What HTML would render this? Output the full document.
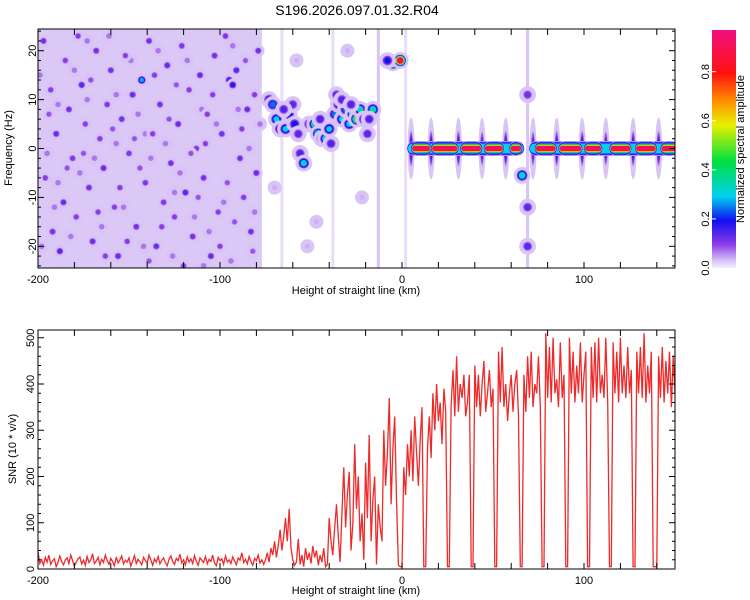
<!DOCTYPE html>
<html><head><meta charset="utf-8">
<style>
html,body{margin:0;padding:0;background:#fff;}
svg{display:block;font-family:"Liberation Sans",sans-serif;}
text{fill:#000;}
</style></head>
<body>
<svg id="chart" width="750" height="600" viewBox="0 0 750 600" xmlns="http://www.w3.org/2000/svg">
<text x="357" y="15" font-size="14" text-anchor="middle">S196.2026.097.01.32.R04</text>
<defs>
<clipPath id="clipTop"><rect x="38" y="29" width="637" height="239"/></clipPath>
<clipPath id="clipBot"><rect x="38" y="330" width="637" height="239"/></clipPath>
<linearGradient id="cbGrad" x1="0" y1="1" x2="0" y2="0">
<stop offset="0" stop-color="#f4eefc"/><stop offset="0.03" stop-color="#d8c4f5"/><stop offset="0.1" stop-color="#8a3be8"/>
<stop offset="0.2" stop-color="#1010f0"/><stop offset="0.3" stop-color="#00d0f0"/><stop offset="0.45" stop-color="#00e040"/>
<stop offset="0.6" stop-color="#e8f000"/><stop offset="0.7" stop-color="#ff9000"/><stop offset="0.82" stop-color="#ff1010"/>
<stop offset="1" stop-color="#f01080"/></linearGradient>
</defs>
<g id="heat" clip-path="url(#clipTop)"></g>
<g id="topAxes"></g>
<text x="12" y="148" font-size="11" text-anchor="middle" transform="rotate(-90 12 148)">Frequency (Hz)</text>
<text x="356" y="294" font-size="11" text-anchor="middle">Height of straight line (km)</text>
<rect x="712" y="30" width="24" height="238" fill="url(#cbGrad)"/>
<g id="cbAxes"></g>
<text x="744" y="149" font-size="11" text-anchor="middle" transform="rotate(-90 744 149)">Normalized spectral amplitude</text>
<g id="snr" clip-path="url(#clipBot)"></g>
<g id="botAxes"></g>
<text x="16" y="449" font-size="11" text-anchor="middle" transform="rotate(-90 16 449)">SNR (10 * v/v)</text>
<text x="356" y="594" font-size="11" text-anchor="middle">Height of straight line (km)</text>
</svg>
<script>
// ---- data ----
const xTicks = [-200,-100,0,100];
const freqTicks = [-20,-10,0,10,20];
const snrTicks = [0,100,200,300,400,500];
const cbTicks = [0.0,0.2,0.4,0.6,0.8];
// noise field [xStart, xEnd, amplitude]
const noiseBands = [[-200,-77,0.04]];
// vertical streaks [x, amplitude]
const streaks = [[-66,0.03],[-38,0.03],[-13,0.05],[2,0.03],[69,0.05]];
// noise spots [x km, freq Hz, amplitude]
const noiseSpots = [
[-197,22,0.12],[-193,12,0.1],[-190,3,0.13],[-196,-6,0.1],[-192,-17,0.12],[-188,-21,0.14],[-185,18,0.1],[-183,8,0.12],[-181,-2,0.11],[-186,-11,0.13],
[-178,23,0.1],[-176,13,0.14],[-174,5,0.1],[-172,-8,0.12],[-179,-14,0.1],[-170,-19,0.13],[-168,20,0.12],[-166,2,0.1],[-164,-4,0.13],[-162,9,0.11],
[-160,16,0.12],[-158,-12,0.1],[-156,-22,0.13],[-154,6,0.12],[-152,19,0.1],[-150,-1,0.11],[-148,11,0.13],[-146,-16,0.12],[-143,14,0.28],[-141,-7,0.11],
[-139,22,0.12],[-137,3,0.1],[-135,-20,0.13],[-133,9,0.12],[-131,-11,0.11],[-129,17,0.13],[-127,-3,0.12],[-125,-14,0.1],[-123,5,0.13],[-121,21,0.11],
[-119,-9,0.14],[-117,12,0.1],[-115,-18,0.12],[-113,0,0.11],[-111,15,0.13],[-109,-6,0.12],[-107,7,0.1],[-105,-22,0.13],[-103,19,0.12],[-101,-13,0.1],
[-99,3,0.12],[-97,23,0.11],[-95,14,0.16],[-93,13,0.18],[-91,16,0.14],[-89,-2,0.12],[-87,-10,0.1],[-85,8,0.13],[-83,-17,0.12],[-81,11,0.1],
[-80,-5,0.13],[-79,20,0.12],[-194,7,0.09],[-187,-25,0.1],[-175,-1,0.09],[-167,-13,0.1],[-159,4,0.09],[-151,-19,0.1],[-144,-4,0.09],[-136,15,0.1],
[-128,6,0.09],[-120,-24,0.1],[-112,-10,0.09],[-104,11,0.1],[-96,-7,0.09],[-88,4,0.1],[-82,-21,0.09],[-171,14,0.09],[-155,-8,0.1],[-139,-23,0.09],
[-124,13,0.09],[-108,1,0.1],[-92,-15,0.09],[-184,-4,0.09],[-163,-22,0.1],[-147,2,0.09],[-132,-16,0.1],[-116,-1,0.09],[-100,-20,0.1],[-86,18,0.09]];
// faint noise spots [x km, freq Hz, amplitude]
const faintSpots = [
[-199,15,0.07],[-195,-1,0.07],[-191,-12,0.07],[-189,9,0.07],[-182,-18,0.07],[-180,16,0.07],[-177,-5,0.07],[-173,10,0.07],[-169,-2,0.07],[-165,-16,0.07],
[-161,23,0.07],[-157,1,0.07],[-153,-12,0.07],[-149,18,0.07],[-145,7,0.07],[-142,-20,0.07],[-138,-2,0.07],[-134,20,0.07],[-130,1,0.07],[-126,-22,0.07],
[-122,-5,0.07],[-118,18,0.07],[-114,-14,0.07],[-110,8,0.07],[-106,-17,0.07],[-102,5,0.07],[-98,-11,0.07],[-94,-23,0.07],[-90,8,0.07],[-84,0,0.07],
[-81,-13,0.07],[-78,5,0.07],[-198,-20,0.07],[-189,-7,0.07],[-173,22,0.07],[-157,11,0.07],[-141,3,0.07],[-125,-9,0.07],[-109,-24,0.07],[-93,21,0.07],
[-70,-8,0.04],[-58,18,0.04],[-47,-15,0.04],[-30,20,0.04],[-22,-10,0.04],[-52,-20,0.04]];
// track spots (signal) [x km, freq Hz, amplitude]
const trackSpots = [
[-73,10,0.2],[-71,9,0.25],[-69,6,0.3],[-67,4,0.25],[-64,4,0.3],[-62,7,0.2],[-59,5,0.2],[-56,-1,0.15],[-54,-3,0.32],[-51,5,0.2],
[-48,5,0.4],[-46,3,0.45],[-44,2,0.3],[-42,2,0.35],[-40,4,0.3],[-37,7,0.25],[-35,9,0.2],[-33,6,0.3],[-31,8,0.25],[-29,5,0.3],
[-27,7,0.45],[-25,6,0.5],[-23,8,0.35],[-21,6,0.2],[-36,11,0.14],[-60,9,0.14],[-16,8,0.35],[-19,3,0.14],[-65,8,0.15],[-57,3,0.14],
[-45,6,0.15],[-39,1,0.15],[-33,10,0.15],[-28,9,0.15],[-18,6,0.15],
[-5,17.5,0.9],[-1,18,0.9],[-8,18,0.2],[66,-5.5,0.35],[69,-12,0.14],[69,-20,0.14],[69,11,0.12]];
// zero-frequency band: continuous base [x0,x1,amp] and strong segments
const baseBand = [[4,66,0.3],[71,150,0.3]];
const strongSegs = [[6,15,0.95],[17,30,0.95],[33,43,0.95],[46,55,0.95],[60,65,0.95],[74,84,0.95],[87,98,0.95],[101,109,0.95],[115,125,0.95],[129,139,0.95],[143,151,0.95]];
// vertical gap spikes along 0 Hz [x km, amplitude]
const gapSpikes = [[5,0.16],[16,0.16],[31,0.16],[44,0.14],[57,0.16],[72,0.14],[85,0.16],[99,0.16],[112,0.14],[127,0.16],[141,0.16]];
// SNR values from -200 to 150 km (evenly spaced)
const snrValues = [
38,12,20,8,25,15,30,10,18,22,5,14,28,16,9,20,24,12,30,18,6,15,22,26,11,19,8,27,14,20,33,12,17,25,9,21,14,30,18,10,
23,16,7,26,13,20,28,11,19,15,24,6,17,29,12,21,16,9,25,18,13,30,20,8,22,15,27,11,19,24,14,7,21,28,16,10,23,18,32,13,
20,9,26,15,22,12,29,17,8,24,19,14,27,11,21,16,30,13,7,25,18,22,10,28,15,20,12,26,17,9,24,19,35,14,21,11,27,16,8,23,
18,30,13,20,10,
20,35,15,45,30,60,25,50,85,40,70,110,60,130,45,
20,8,15,65,10,30,5,45,20,35,12,50,25,40,8,30,15,45,5,10,
110,60,30,90,140,70,15,120,220,90,160,210,40,100,270,130,200,60,120,20,
230,110,290,60,150,200,10,140,90,60,
300,180,250,370,140,260,330,150,8,5,
5,220,160,270,200,300,190,330,250,180,280,350,5,5,260,330,240,380,300,400,320,360,270,390,340,5,5,350,430,330,
460,340,400,370,420,330,360,420,5,5,440,350,420,330,400,450,340,380,430,350,390,5,5,470,360,480,350,400,320,380,
420,340,400,430,330,5,5,420,340,460,370,470,350,400,380,460,350,5,5,510,370,480,360,500,380,410,350,490,370,420,
5,5,500,380,470,360,440,380,490,360,420,470,5,5,480,370,490,360,500,380,420,370,500,360,5,5,490,380,470,360,500,
380,440,370,480,380,430,5,5,470,380,480,370,510,360,440,380,470,5,5,5,460,370,480,360,450,380,470,350,460,380];

// ---- scales ----
const xs = km => 402 + km*1.82;
const fy = f => 148.5 - f*4.89;
const sy = v => 569 - v*0.4625;
const cby = a => 268 - a*245.4;
const NS='http://www.w3.org/2000/svg';
function mk(tag, attrs, parent){const e=document.createElementNS(NS,tag);for(const k in attrs)e.setAttribute(k,attrs[k]);parent.appendChild(e);return e;}
const stops=[[0,[244,238,252]],[0.03,[216,196,245]],[0.1,[138,59,232]],[0.2,[16,16,240]],[0.3,[0,208,240]],[0.45,[0,224,64]],[0.6,[232,240,0]],[0.7,[255,144,0]],[0.82,[255,16,16]],[1,[240,16,128]]];
function cmap(a){for(let i=1;i<stops.length;i++){if(a<=stops[i][0]){const [a0,c0]=stops[i-1],[a1,c1]=stops[i];const t=(a-a0)/(a1-a0);return 'rgb('+c0.map((c,j)=>Math.round(c+(c1[j]-c)*t)).join(',')+')';}}return 'rgb(240,16,128)';}
const levels=[0.03,0.06,0.09,0.13,0.2,0.3,0.45,0.6,0.72,0.85,0.95];

const heat=document.getElementById('heat');
noiseBands.forEach(b=>{
  const r=mk('rect',{x:xs(b[0]),y:29,width:xs(b[1])-xs(b[0]),height:239,fill:cmap(b[2]),opacity:0.7},heat);
  
  
});
streaks.forEach(s=>{
  const r=mk('rect',{x:xs(s[0])-1.5,y:29,width:3,height:239,fill:cmap(s[1]),opacity:0.6},heat);
  
  
});
function blob(x,f,a,rx,ry,name){
  const g=mk('g',{},heat);
  
  
  mk('ellipse',{cx:xs(x),cy:fy(f),rx:rx*1.4,ry:ry*1.4,fill:cmap(0.03)},g);
  levels.forEach(L=>{if(L<a){const k=1-0.5*(L/a);mk('ellipse',{cx:xs(x),cy:fy(f),rx:rx*k,ry:ry*k,fill:cmap(L)},g);}});
  mk('ellipse',{cx:xs(x),cy:fy(f),rx:rx*0.5,ry:ry*0.5,fill:cmap(a)},g);
}
faintSpots.forEach(p=>blob(p[0],p[1],p[2],5,5,'faint-noise-spot'));
noiseSpots.forEach(p=>blob(p[0],p[1],p[2],4.5,4.5,'noise-spot'));
gapSpikes.forEach(p=>blob(p[0],0,p[1],2.5,22,'gap-spike'));
trackSpots.forEach(p=>blob(p[0],p[1],p[2],6,6,'signal-spot'));
const bandH=[[0.03,7.5],[0.08,7],[0.13,6.5],[0.2,6],[0.3,5],[0.45,4.2],[0.6,3.5],[0.72,3],[0.85,2.5],[0.95,2]];
function band(b,name){
  const g=mk('g',{},heat);
  
  
  bandH.forEach(([L,h])=>{if(L<=b[2]){mk('rect',{x:xs(b[0])-h*0.3,y:fy(0)-h,width:xs(b[1])-xs(b[0])+h*0.6,height:2*h,rx:h,fill:cmap(L)},g);}});
}
baseBand.forEach(b=>band(b,'zero-hz-band'));
strongSegs.forEach(b=>band(b,'zero-hz-segment'));

// axes helper
function frame(group,y0,y1,name){
  const r=mk('rect',{x:38,y:y0,width:637,height:y1-y0,fill:'none',stroke:'#000','stroke-width':1},group);
  
  
}
const topAx=document.getElementById('topAxes');
frame(topAx,29,268,'spectrogram-frame');
for(let k=-200;k<=150;k+=20){mk('line',{x1:xs(k),y1:268,x2:xs(k),y2:262,stroke:'#000'},topAx);mk('line',{x1:xs(k),y1:29,x2:xs(k),y2:35,stroke:'#000'},topAx);}
for(let f=-24;f<=24;f+=2){const L=f%10===0?6:3;mk('line',{x1:38,y1:fy(f),x2:38+L,y2:fy(f),stroke:'#000'},topAx);mk('line',{x1:675,y1:fy(f),x2:675-L,y2:fy(f),stroke:'#000'},topAx);}
xTicks.forEach(k=>{const t=mk('text',{x:xs(k),y:283,'font-size':11,'text-anchor':'middle'},topAx);t.textContent=k;
  
  });
freqTicks.forEach(f=>{const t=mk('text',{x:32,y:fy(f)+4,'font-size':11,'text-anchor':'middle',transform:'rotate(-90 32 '+fy(f)+')'},topAx);t.textContent=f;
  
  });
const cbAx=document.getElementById('cbAxes');
cbTicks.forEach(a=>{const y=cby(a);mk('line',{x1:712,y1:y,x2:716,y2:y,stroke:'#fff'},cbAx);
  const t=mk('text',{x:705,y:y+4,'font-size':11,'text-anchor':'middle',transform:'rotate(-90 705 '+y+')'},cbAx);t.textContent=a.toFixed(1);
  
  });

// SNR line
const snr=document.getElementById('snr');
const step=350/(snrValues.length-1);
const pts=snrValues.map((v,i)=>xs(-200+i*step).toFixed(1)+','+sy(v).toFixed(1)).join(' ');
const pl=mk('polyline',{points:pts,fill:'none',stroke:'#ee2a2a','stroke-width':1.3},snr);


const botAx=document.getElementById('botAxes');
frame(botAx,330,569,'snr-frame');
for(let k=-200;k<=150;k+=20){mk('line',{x1:xs(k),y1:569,x2:xs(k),y2:563,stroke:'#000'},botAx);mk('line',{x1:xs(k),y1:330,x2:xs(k),y2:336,stroke:'#000'},botAx);}
for(let v=0;v<=500;v+=20){const L=v%100===0?6:3;mk('line',{x1:38,y1:sy(v),x2:38+L,y2:sy(v),stroke:'#000'},botAx);mk('line',{x1:675,y1:sy(v),x2:675-L,y2:sy(v),stroke:'#000'},botAx);}
xTicks.forEach(k=>{const t=mk('text',{x:xs(k),y:584,'font-size':11,'text-anchor':'middle'},botAx);t.textContent=k;
  
  });
snrTicks.forEach(v=>{const t=mk('text',{x:30,y:sy(v)+4,'font-size':11,'text-anchor':'middle',transform:'rotate(-90 30 '+sy(v)+')'},botAx);t.textContent=v;
  
  });
</script>
</body></html>
